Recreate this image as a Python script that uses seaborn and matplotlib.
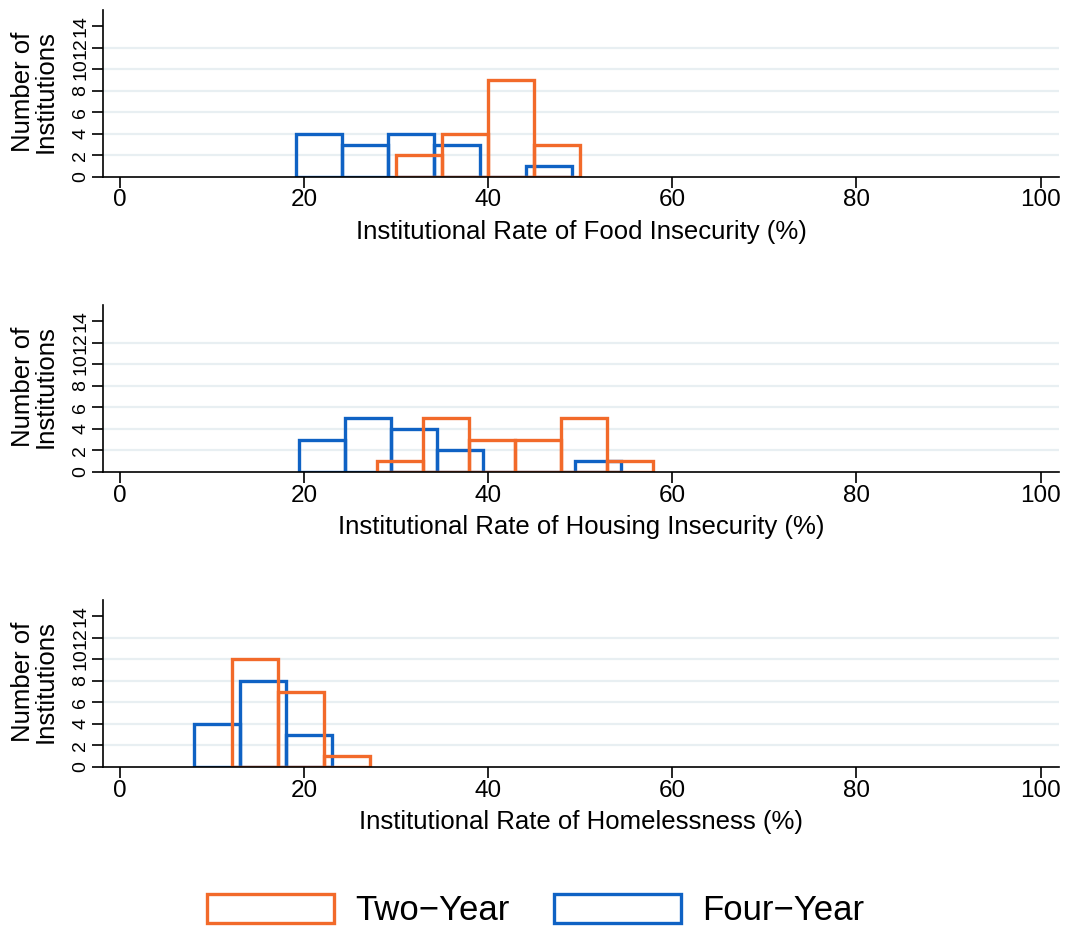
import numpy as np
import pandas as pd
import matplotlib
matplotlib.use('Agg')
import matplotlib.pyplot as plt
import seaborn as sns
from matplotlib.patches import Patch

sns.set_style('white')
plt.rcParams['font.family'] = ['Liberation Sans', 'DejaVu Sans']
plt.rcParams['text.color'] = 'black'
plt.rcParams['axes.labelcolor'] = 'black'

# bin width 5; each series: left edge of first bin + counts per bin
BIN_W = 5

food_two_start = 30.0
food_two_counts = [2, 4, 9, 3]
food_four_start = 19.1
food_four_counts = [4, 3, 4, 3, 0, 1]

housing_two_start = 27.9
housing_two_counts = [1, 5, 3, 3, 5, 1]
housing_four_start = 19.4
housing_four_counts = [3, 5, 4, 2, 0, 0, 1]

homeless_two_start = 12.2
homeless_two_counts = [10, 7, 1]
homeless_four_start = 8.0
homeless_four_counts = [4, 8, 3]

xlabels = [
    'Institutional Rate of Food Insecurity (%)',
    'Institutional Rate of Housing Insecurity (%)',
    'Institutional Rate of Homelessness (%)',
]
legend_labels = ['Two\u2212Year', 'Four\u2212Year']

ORANGE = '#F26A2A'
BLUE = '#0F62C4'
GRID = '#E8EFF2'

panels = [
    (food_two_start, food_two_counts, food_four_start, food_four_counts),
    (housing_two_start, housing_two_counts, housing_four_start, housing_four_counts),
    (homeless_two_start, homeless_two_counts, homeless_four_start, homeless_four_counts),
]

fig = plt.figure(figsize=(10.67, 9.3), dpi=100)

ax_left = 103 / 1067
ax_w = (1059 - 103) / 1067
tops = [10, 305, 600]
bottoms = [177, 472, 767]


def draw_hist(ax, start, counts, color):
    counts = np.asarray(counts, dtype=float)
    n = len(counts)
    centers = start + BIN_W * np.arange(n) + BIN_W / 2
    df = pd.DataFrame({'x': centers, 'w': counts})
    df = df[df['w'] > 0]
    sns.histplot(data=df, x='x', weights='w', binwidth=BIN_W,
                 binrange=(start, start + BIN_W * n), fill=False,
                 element='bars', color=color, linewidth=2.4, ax=ax)


for i, (two_s, two_c, four_s, four_c) in enumerate(panels):
    top = 1 - tops[i] / 930
    bot = 1 - bottoms[i] / 930
    ax = fig.add_axes([ax_left, bot, ax_w, top - bot])

    for y in range(2, 13, 2):
        ax.axhline(y, color=GRID, linewidth=1.6, zorder=0)

    draw_hist(ax, four_s, four_c, BLUE)
    draw_hist(ax, two_s, two_c, ORANGE)

    ax.set_xlim(-1.85, 102)
    ax.set_ylim(0, 15.5)
    ax.set_xticks([0, 20, 40, 60, 80, 100])
    ax.set_yticks(range(0, 15, 2))
    ax.set_yticklabels([str(v) for v in range(0, 15, 2)], rotation=90,
                       va='center')
    ax.tick_params(axis='both', length=8, width=1.2, direction='out',
                   colors='black', pad=1, bottom=True, left=True)
    ax.tick_params(axis='x', labelsize=17.5)
    ax.tick_params(axis='y', labelsize=14, pad=2)
    ax.set_xlabel(xlabels[i], fontsize=18.5, labelpad=6)
    ax.set_ylabel('Number of\nInstitutions', fontsize=18.5, linespacing=0.95)
    ax.yaxis.set_label_coords(-0.047, 0.51)

    for side in ['top', 'right']:
        ax.spines[side].set_visible(False)
    for side in ['left', 'bottom']:
        ax.spines[side].set_color('black')
        ax.spines[side].set_linewidth(1.2)

handles = [Patch(facecolor='white', edgecolor=ORANGE, linewidth=2.4),
           Patch(facecolor='white', edgecolor=BLUE, linewidth=2.4)]
fig.legend(handles, legend_labels, loc='center', ncol=2,
           bbox_to_anchor=(0.502, 0.021), frameon=False, fontsize=25,
           handlelength=3.65, handleheight=0.95, handletextpad=0.6,
           columnspacing=1.3, borderpad=0)

fig.savefig('out.png', dpi=100)
